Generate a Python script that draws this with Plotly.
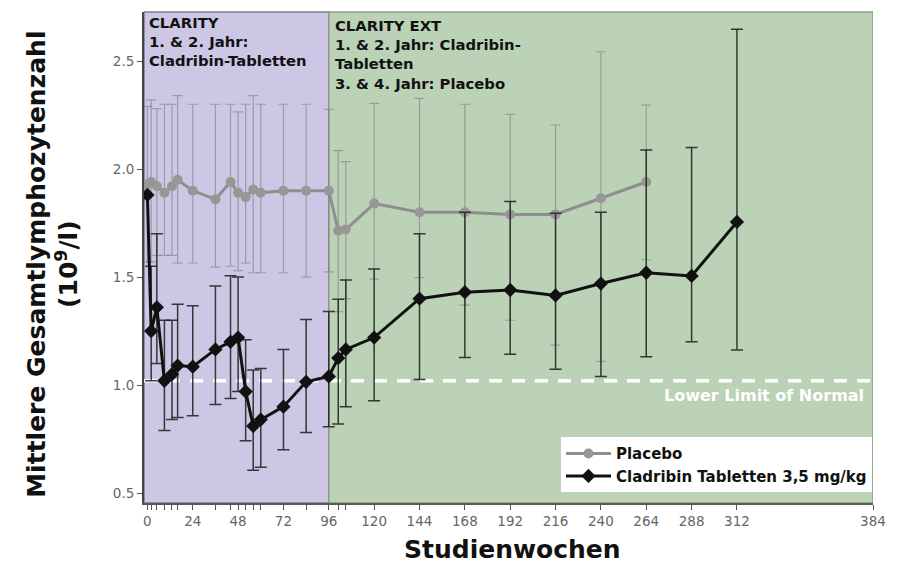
import plotly.graph_objects as go

# ---------------- data ----------------
weeks_pbo = [0, 2, 5, 9, 13, 16, 24, 36, 44, 48, 52, 56, 60, 72, 84, 96,
             101, 105, 120, 144, 168, 192, 216, 240, 264]
pbo_mean = [1.93, 1.94, 1.92, 1.89, 1.92, 1.95, 1.90, 1.86, 1.94, 1.89, 1.87, 1.905,
            1.89, 1.90, 1.90, 1.90, 1.715, 1.72, 1.84, 1.80, 1.80, 1.79, 1.79, 1.865, 1.94]
pbo_upper = [2.29, 2.32, 2.28, 2.30, 2.30, 2.34, 2.30, 2.30, 2.30, 2.265, 2.30, 2.34,
             2.30, 2.30, 2.30, 2.276, 2.085, 2.034, 2.304, 2.327, 2.30, 2.253, 2.204, 2.543, 2.296]
pbo_lower = [1.57, 1.57, 1.60, 1.60, 1.60, 1.565, 1.565, 1.546, 1.55, 1.53, 1.565, 1.52,
             1.52, 1.52, 1.50, 1.524, 1.34, 1.40, 1.49, 1.497, 1.37, 1.30, 1.185, 1.11, 1.58]

weeks_cla = [0, 2, 5, 9, 13, 16, 24, 36, 44, 48, 52, 56, 60, 72, 84, 96,
             101, 105, 120, 144, 168, 192, 216, 240, 264, 288, 312]
cla_mean = [1.88, 1.25, 1.36, 1.02, 1.05, 1.09, 1.085, 1.165, 1.20, 1.22, 0.97, 0.81,
            0.84, 0.90, 1.015, 1.04, 1.125, 1.165, 1.22, 1.40, 1.43, 1.44, 1.415, 1.47,
            1.52, 1.505, 1.755]
cla_upper = [1.88, 1.55, 1.70, 1.30, 1.30, 1.374, 1.367, 1.458, 1.506, 1.50, 1.21, 1.07,
             1.077, 1.165, 1.304, 1.34, 1.397, 1.486, 1.537, 1.70, 1.80, 1.85, 1.795, 1.80,
             2.088, 2.10, 2.647]
cla_lower = [1.88, 1.02, 1.10, 0.79, 0.84, 0.85, 0.858, 0.91, 0.938, 0.97, 0.742, 0.606,
             0.62, 0.70, 0.78, 0.807, 0.82, 0.90, 0.927, 1.026, 1.128, 1.143, 1.073, 1.04,
             1.131, 1.20, 1.162]

major_ticks = [0, 24, 48, 72, 96, 120, 144, 168, 192, 216, 240, 264, 288, 312, 384]
y_ticks = [0.5, 1.0, 1.5, 2.0, 2.5]

phase_split = 96          # end of CLARITY, start of CLARITY EXT
lower_limit_normal = 1.02

x_range = [-1.8, 384]
y_range = [0.454, 2.727]

FONT = "DejaVu Sans"

# ---------------- figure ----------------
fig = go.Figure()

fig.add_trace(go.Scatter(
    x=weeks_pbo, y=pbo_mean, name="<b>Placebo</b>", mode="lines+markers",
    line=dict(color="#8e8e8e", width=3),
    marker=dict(symbol="circle", size=10, color="#979797"),
    error_y=dict(type="data", symmetric=False,
                 array=[u - m for u, m in zip(pbo_upper, pbo_mean)],
                 arrayminus=[m - l for m, l in zip(pbo_mean, pbo_lower)],
                 color="rgba(125,125,130,0.6)", thickness=1.2, width=5),
))

fig.add_trace(go.Scatter(
    x=weeks_cla, y=cla_mean, name="<b>Cladribin Tabletten 3,5 mg/kg</b>",
    mode="lines+markers",
    line=dict(color="#111111", width=3),
    marker=dict(symbol="diamond", size=11, color="#111111"),
    error_y=dict(type="data", symmetric=False,
                 array=[u - m for u, m in zip(cla_upper, cla_mean)],
                 arrayminus=[m - l for m, l in zip(cla_mean, cla_lower)],
                 color="rgba(25,30,25,0.85)", thickness=1.5, width=6),
))

# phase backgrounds
fig.add_shape(type="rect", xref="x", yref="paper", x0=x_range[0], x1=phase_split,
              y0=0, y1=1, fillcolor="#cdc6e4", line=dict(color="#7d7d92", width=1.5),
              layer="below")
fig.add_shape(type="rect", xref="x", yref="paper", x0=phase_split, x1=x_range[1],
              y0=0, y1=1, fillcolor="#bbd2b7", line=dict(color="#8a9a8c", width=1.5),
              layer="below")

# lower limit of normal
fig.add_shape(type="line", xref="paper", yref="y", x0=0, x1=1,
              y0=lower_limit_normal, y1=lower_limit_normal,
              line=dict(color="white", width=3.5, dash="13px,10px"), layer="below")
fig.add_annotation(xref="paper", yref="y", x=1, y=lower_limit_normal,
                   xanchor="right", yanchor="top", xshift=-7, yshift=-3,
                   text="<b>Lower Limit of Normal</b>", showarrow=False,
                   font=dict(family=FONT, size=16, color="white"))

# phase labels
fig.add_annotation(xref="x", yref="paper", x=x_range[0], y=1.0,
                   xanchor="left", yanchor="top", xshift=3, align="left",
                   text="<b>CLARITY<br>1. & 2. Jahr:<br>Cladribin-Tabletten</b>",
                   showarrow=False, font=dict(family=FONT, size=14.8, color="#111111"))
fig.add_annotation(xref="x", yref="paper", x=phase_split, y=0.993,
                   xanchor="left", yanchor="top", xshift=4, align="left",
                   text="<b>CLARITY EXT<br>1. & 2. Jahr: Cladribin-<br>Tabletten<br>3. & 4. Jahr: Placebo</b>",
                   showarrow=False, font=dict(family=FONT, size=14.8, color="#111111"))

# axis titles
fig.add_annotation(xref="paper", yref="paper", x=-0.125, y=0.487,
                   xanchor="center", yanchor="middle", textangle=-90,
                   text="<b>Mittlere Gesamtlymphozytenzahl<br>(10<sup>9</sup>/l)</b>",
                   showarrow=False, font=dict(family=FONT, size=25, color="#111111"))
fig.add_annotation(xref="paper", yref="paper", x=0.506, y=-0.094,
                   xanchor="center", yanchor="middle",
                   text="<b>Studienwochen</b>", showarrow=False,
                   font=dict(family=FONT, size=25, color="#111111"))

all_ticks = sorted(set(major_ticks) | set(weeks_cla) | set(weeks_pbo))
tick_text = [str(t) if t in major_ticks else "" for t in all_ticks]

fig.update_xaxes(range=x_range, tickvals=all_ticks, ticktext=tick_text,
                 ticks="outside", ticklen=5, tickwidth=1.3, tickcolor="#555555",
                 showline=True, linecolor="#5a5a5a", linewidth=2,
                 showgrid=False, zeroline=False,
                 tickfont=dict(family=FONT, size=13.5, color="#666666"))
fig.update_yaxes(range=y_range, tickvals=y_ticks, ticktext=[f"{v:.1f}" for v in y_ticks],
                 ticks="outside", ticklen=5, tickwidth=1.3, tickcolor="#555555",
                 showline=True, linecolor="#444444", linewidth=2,
                 showgrid=False, zeroline=False,
                 tickfont=dict(family=FONT, size=13.5, color="#666666"))

fig.update_layout(
    width=894, height=563,
    margin=dict(l=136, r=29, t=4, b=68),
    paper_bgcolor="white", plot_bgcolor="white",
    showlegend=True,
    legend=dict(x=0.572, y=0.134, xanchor="left", yanchor="top",
                bgcolor="white", borderwidth=0, itemwidth=45,
                font=dict(family=FONT, size=15, color="#111111"),
                tracegroupgap=2),
)

fig.write_html("out.html")
